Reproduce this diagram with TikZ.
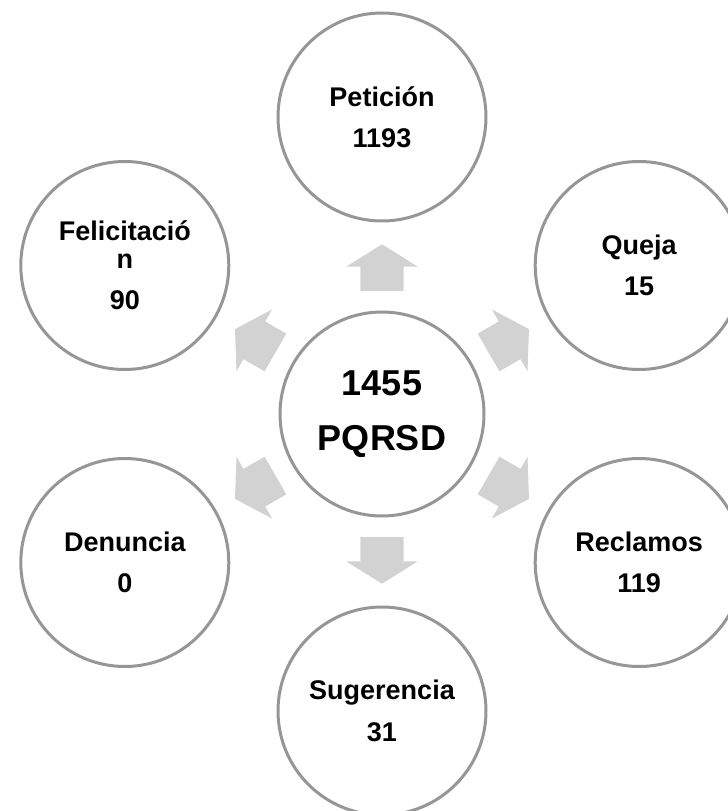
\documentclass[tikz,border=0pt]{standalone}
\usepackage{fontspec}
\setmainfont{Liberation Sans}
\usetikzlibrary{shapes.arrows, calc}
\definecolor{ringgray}{RGB}{150,150,150}
\definecolor{arrowgray}{RGB}{210,210,210}
\tikzstyle{hub} = [circle, minimum size=153pt, inner sep=0pt, draw=ringgray, line width=2.25pt, fill=white, align=center, font=\fontsize{27pt}{41pt}\selectfont\bfseries]
\tikzstyle{item} = [circle, minimum size=156pt, inner sep=0pt, draw=ringgray, line width=2.25pt, fill=white, align=center, font=\fontsize{20.25pt}{21pt}\selectfont\bfseries]
\tikzstyle{blockarrow} = [single arrow, fill=arrowgray, minimum height=35pt, inner xsep=0pt, inner ysep=16.1pt, single arrow head extend=10.5pt, single arrow tip angle=116, single arrow head indent=0pt]

\begin{document}
\begin{tikzpicture}
\useasboundingbox (-286.5pt,-297.75pt) rectangle (259.5pt,310.5pt);
\node (hub) [hub] at (0,0) {1455\\PQRSD};
\node (pet) [item] at (90:222.75pt) {Petición\\[10pt]1193};
\node (que) [item] at (30:222.75pt) {Queja\\[10pt]15};
\node (rec) [item] at (-30:222.75pt) {Reclamos\\[10pt]119};
\node (sug) [item] at (-90:222.75pt) {Sugerencia\\[10pt]31};
\node (den) [item] at (210:222.75pt) {Denuncia\\[10pt]0};
\node (fel) [item] at (150:222.75pt) {Felicitació\\n\\[10pt]90};
\node (a1) [blockarrow, rotate=90] at ($(hub)!0.47!(pet)$) {};
\node (a2) [blockarrow, rotate=30] at ($(hub)!0.47!(que)$) {};
\node (a3) [blockarrow, rotate=-30] at ($(hub)!0.47!(rec)$) {};
\node (a4) [blockarrow, rotate=-90] at ($(hub)!0.47!(sug)$) {};
\node (a5) [blockarrow, rotate=210] at ($(hub)!0.47!(den)$) {};
\node (a6) [blockarrow, rotate=150] at ($(hub)!0.47!(fel)$) {};
\end{tikzpicture}
\end{document}
